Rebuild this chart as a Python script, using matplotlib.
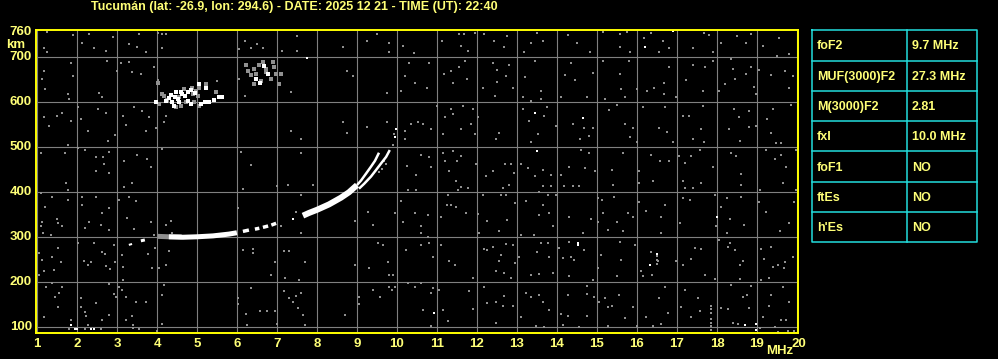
import matplotlib
matplotlib.use("Agg")
import matplotlib.pyplot as plt
from matplotlib.lines import Line2D

# ---------------- data ----------------
title_text = "Tucumán (lat: -26.9, lon: 294.6) - DATE: 2025 12 21 - TIME (UT): 22:40"
freq_ticks = list(range(1, 21))
height_ticks = [100, 200, 300, 400, 500, 600, 700]
height_top = 760

param_names = ["foF2", "MUF(3000)F2", "M(3000)F2", "fxI", "foF1", "ftEs", "h'Es"]
param_values = ["9.7 MHz", "27.3 MHz", "2.81", "10.0 MHz", "NO", "NO", "NO"]

# F-layer trace pieces (frequency MHz, virtual height km)
trace_start1_f = [3.30, 3.38]
trace_start1_h = [283, 285]
trace_start2_f = [3.60, 3.70]
trace_start2_h = [292, 294]
trace_gray_f = [4.02, 4.30, 4.62]
trace_gray_h = [302, 301, 301]
trace_low_f = [4.30, 4.65, 5.00, 5.40, 5.80, 6.00]
trace_low_h = [301, 300, 301, 303, 307, 310]
trace_dash_f = [[6.15, 6.30], [6.45, 6.56], [6.65, 6.78], [6.86, 6.98]]
trace_dash_h = [[313, 316], [318, 320], [322, 325], [327, 331]]
trace_mid_f = [7.65, 7.80, 8.00, 8.30, 8.60, 8.80, 9.00]
trace_mid_h = [348, 354, 361, 373, 388, 400, 416]
branch_o_f = [9.00, 9.10, 9.23, 9.35, 9.45, 9.55]
branch_o_h = [416, 426, 442, 457, 470, 488]
branch_x_f = [9.05, 9.18, 9.35, 9.48, 9.60, 9.73, 9.82]
branch_x_h = [408, 419, 435, 450, 464, 479, 494]

# second hop echoes (white) and their gray halo
hop2_f = [3.98, 4.22, 4.35, 4.48, 4.60, 4.64, 4.77, 4.85, 5.06, 4.39, 4.52, 4.56, 4.43,
          4.77, 4.85, 5.10, 5.20, 5.30, 5.43, 5.56, 5.64, 5.23, 4.30, 4.45, 4.70, 4.95,
          6.68, 6.78, 6.58, 6.48]
hop2_h = [601, 604, 616, 622, 624, 619, 624, 628, 641, 600, 607, 600, 593,
          604, 596, 596, 600, 601, 606, 611, 611, 631, 610, 612, 615, 620,
          680, 663, 644, 652]
hop2_gray_f = [4.18, 4.31, 4.68, 4.89, 4.98, 5.23, 5.02, 4.73, 4.93, 5.06, 4.48, 4.60, 4.06,
               5.48, 4.02, 4.14, 5.06, 4.55, 4.25, 4.90,
               6.23, 6.27, 6.43, 6.56, 6.48, 6.73, 6.93, 6.97, 6.43, 6.85, 7.10, 7.06, 6.60,
               6.73, 6.35, 6.65, 6.90]
hop2_gray_h = [615, 609, 630, 633, 626, 641, 615, 600, 600, 593, 589, 593, 596,
               622, 644, 619, 633, 612, 606, 618,
               683, 670, 674, 683, 663, 667, 678, 663, 641, 652, 663, 641, 648,
               674, 660, 690, 690]

# isolated bright echoes
spot_f = [7.75, 16.20, 16.90, 13.45, 14.64, 13.50, 7.40, 18.00, 14.52, 14.52, 16.31,
          16.49, 10.93, 18.70, 18.96, 18.96, 1.85, 1.95, 2.00, 2.36, 2.42, 9.95, 9.98]
spot_h = [698, 724, 758, 576, 565, 491, 340, 344, 287, 283, 239,
          262, 131, 104, 107, 93, 104, 96, 96, 96, 96, 522, 540]

# background interference (gray dots)
noise_pts = [
    (1.25, 757), (1.9, 750), (1.18, 722), (1.25, 711), (2.14, 733), (2.3, 752), (2.42, 721),
    (2.74, 715), (2.9, 746), (3.3, 730), (3.5, 724), (3.55, 752), (3.73, 713), (4.04, 755),
    (4.14, 752), (4.24, 752), (4.14, 721), (6.04, 719), (6.2, 737), (6.35, 721), (6.5, 730),
    (6.64, 721), (7.12, 715), (7.5, 747), (7.5, 715), (8.66, 724), (9.25, 737),
    (9.5, 752), (9.8, 733), (9.8, 713), (10.14, 726), (10.42, 709),
    (1.18, 670), (1.14, 652), (1.2, 630), (1.85, 687), (1.9, 659), (1.77, 619), (1.8, 607),
    (2.56, 620), (2.64, 613), (2.75, 691), (3.0, 670), (3.1, 687), (3.3, 690), (3.39, 667),
    (3.6, 664), (3.93, 678), (4.04, 650), (5.5, 647), (6.06, 652), (6.2, 615),
    (7.35, 622), (8.74, 669), (8.9, 659), (9.75, 620), (10.1, 626), (10.2, 659), (10.3, 687),
    (10.46, 644),
    (1.18, 567), (1.3, 548), (1.5, 570), (1.64, 576), (1.85, 559), (2.04, 589), (2.1, 563),
    (2.54, 585), (2.74, 576), (2.95, 528), (3.16, 570), (3.24, 550), (3.43, 589), (3.64, 581),
    (3.8, 567), (3.73, 536), (3.98, 544), (4.18, 557), (4.22, 570), (2.29, 536), (2.79, 515),
    (7.35, 536), (7.6, 519), (8.66, 557), (8.74, 531), (9.25, 546), (9.75, 557), (10.2, 536),
    (10.35, 552), (10.2, 519),
    (1.1, 487), (1.7, 487), (1.79, 506), (2.04, 499), (2.2, 495), (2.49, 478), (2.65, 478),
    (2.68, 464), (2.49, 448), (2.8, 490), (3.18, 470), (3.5, 484), (3.75, 474), (3.85, 457),
    (4.14, 496), (2.8, 442), (6.1, 490), (6.35, 461), (7.6, 487), (10.24, 459), (10.48, 438),
    (9.68, 470), (9.72, 462), (9.55, 445), (9.62, 452), (9.9, 505), (9.93, 530),
    (11.54, 753), (11.68, 752), (11.95, 755), (11.12, 737), (11.6, 726), (11.77, 715),
    (12.18, 752), (12.43, 736), (12.74, 747), (12.68, 723), (13.18, 711), (13.35, 733),
    (13.65, 737), (13.5, 755), (14.27, 750), (14.5, 733), (14.83, 711), (15.14, 757),
    (15.56, 752), (15.56, 724), (15.74, 757), (15.81, 711), (16.18, 744), (16.35, 755),
    (16.64, 737), (16.54, 713), (16.8, 722), (17.39, 721), (17.68, 755), (17.79, 750),
    (17.89, 713), (18.1, 733), (18.5, 748), (18.73, 733), (18.85, 752), (19.14, 726),
    (19.54, 744), (19.5, 704), (19.79, 707),
    (10.8, 687), (11.17, 664), (11.35, 670), (11.54, 679), (11.7, 693), (11.75, 652),
    (10.75, 633), (11.4, 642), (12.14, 632), (12.39, 687), (12.5, 672), (12.5, 646),
    (12.8, 684), (12.73, 659), (12.9, 633), (12.45, 615), (13.2, 656), (13.45, 691),
    (13.6, 626), (13.6, 607), (13.14, 611), (13.35, 602), (14.2, 661), (14.35, 687),
    (14.45, 650), (14.1, 611), (14.75, 611), (14.9, 665), (15.14, 691), (15.2, 607),
    (15.58, 663), (15.6, 630), (15.7, 611), (15.79, 691), (16.0, 630), (16.24, 626),
    (16.43, 633), (16.68, 642), (16.68, 619), (16.79, 678), (16.96, 611), (17.23, 650),
    (17.39, 683), (17.64, 626), (17.7, 678), (17.89, 691), (18.04, 626), (18.2, 641),
    (18.39, 674), (18.45, 652), (18.73, 663), (18.85, 678), (18.91, 635), (18.98, 619),
    (19.05, 672), (19.35, 661), (19.7, 670), (19.79, 633), (19.89, 659), (18.35, 696),
    (10.52, 556), (10.64, 552), (10.85, 541), (10.99, 593), (11.14, 530), (11.2, 567),
    (11.35, 585), (11.4, 574), (11.64, 593), (11.9, 585), (11.96, 530), (12.03, 568),
    (11.6, 541), (11.85, 552), (12.48, 519), (12.54, 531), (13.14, 585), (13.29, 559),
    (13.68, 570), (13.52, 530), (13.35, 511), (13.74, 589), (13.98, 548), (14.39, 552),
    (14.68, 544), (14.79, 526), (14.9, 544), (14.58, 519), (15.29, 583), (15.49, 595),
    (15.69, 553), (15.89, 544), (15.81, 522), (15.99, 511), (16.14, 589), (16.69, 589),
    (16.54, 544), (16.74, 533), (16.89, 511), (17.14, 570), (17.3, 570), (17.6, 541),
    (17.64, 593), (17.68, 511), (17.39, 519), (18.3, 541), (18.43, 585), (18.55, 567),
    (18.57, 515), (18.8, 580), (18.8, 546), (18.96, 548), (19.25, 563), (19.35, 531),
    (19.39, 585), (19.48, 509), (19.6, 509), (19.85, 595),
    (10.6, 484), (10.8, 478), (10.85, 457), (11.15, 487), (11.2, 470), (11.4, 491),
    (11.6, 480), (11.31, 448), (11.5, 469), (11.98, 464), (12.23, 437), (12.39, 447),
    (12.7, 462), (12.85, 464), (12.93, 442), (13.1, 462), (13.28, 453), (13.45, 437),
    (13.64, 450), (13.85, 439), (14.1, 439), (14.3, 457), (14.6, 495), (14.69, 454),
    (14.81, 488), (14.96, 447), (15.37, 450), (15.64, 488), (16.05, 447), (16.35, 484),
    (16.56, 469), (16.8, 469), (17.04, 481), (17.2, 466), (17.35, 481), (17.56, 493),
    (17.89, 456), (18.35, 488), (18.48, 481), (18.6, 440), (19.23, 493), (19.44, 473),
    (19.6, 484), (19.73, 456), (19.98, 495),
    (1.72, 420), (1.77, 405), (1.1, 398), (1.39, 390), (1.2, 368), (1.12, 335), (1.1, 324),
    (1.16, 309), (1.35, 305), (1.5, 340), (1.52, 331), (1.64, 324), (1.77, 383), (2.14, 390),
    (2.14, 372), (2.31, 335), (2.21, 320), (2.49, 390), (2.64, 353), (2.6, 327), (2.81, 364),
    (2.81, 316), (3.06, 383), (3.18, 411), (3.26, 342), (3.3, 390), (3.43, 318), (3.48, 381),
    (3.39, 421), (3.85, 333), (3.93, 305), (4.24, 327), (4.35, 337), (4.39, 309),
    (6.02, 364), (6.16, 407), (7.0, 414), (7.1, 324), (7.28, 416), (7.48, 357), (7.6, 394),
    (7.9, 416), (7.6, 309), (9.27, 357), (9.39, 327), (9.96, 353), (10.14, 333), (10.27, 405),
    (10.1, 381), (10.48, 405), (10.46, 353), (8.95, 337),
    (1.06, 264), (1.14, 250), (1.38, 255), (1.52, 276), (1.6, 246), (1.43, 227), (1.18, 226),
    (1.06, 216), (2.04, 288), (2.18, 248), (2.27, 239), (2.35, 246), (2.43, 288), (2.64, 268),
    (2.71, 263), (2.74, 235), (2.83, 229), (2.96, 246), (2.93, 283), (3.14, 261), (3.16, 233),
    (3.16, 205), (3.77, 263), (3.89, 231), (3.96, 276), (4.06, 231), (4.23, 239), (4.31, 270),
    (6.14, 272), (6.39, 273), (6.39, 264), (6.85, 216), (6.94, 246), (7.18, 270), (7.31, 270),
    (7.2, 209), (7.56, 204), (7.69, 244), (8.96, 239), (9.31, 231), (9.52, 287), (9.64, 283),
    (9.77, 246), (9.8, 216), (9.89, 216), (10.23, 272),
    (1.23, 190), (1.39, 198), (1.56, 177), (1.62, 189), (1.46, 167), (1.54, 144), (1.18, 122),
    (1.85, 116), (2.1, 164), (2.1, 144), (2.21, 133), (2.24, 124), (2.29, 104), (2.49, 153),
    (2.64, 116), (2.81, 196), (2.81, 127), (2.93, 174), (2.99, 167), (3.06, 190), (3.14, 183),
    (3.24, 168), (3.24, 116), (3.37, 124), (3.41, 105), (3.49, 155), (3.74, 157), (4.13, 172),
    (4.18, 194), (4.14, 107), (6.02, 164), (6.02, 152), (6.23, 130), (6.25, 104), (6.35, 187),
    (6.57, 135), (6.74, 135), (6.95, 135), (6.99, 107), (7.18, 181), (7.29, 164), (7.39, 157),
    (7.48, 170), (7.52, 142), (7.6, 176), (7.64, 127), (7.71, 104), (8.69, 127), (9.06, 168),
    (9.06, 152), (9.39, 183), (9.58, 168), (9.81, 189), (9.88, 183), (9.94, 190), (10.27, 199),
    (10.46, 190), (1.8, 96), (2.2, 96), (2.6, 97), (3.4, 99), (3.55, 97), (4.0, 92),
    (11.48, 424), (11.6, 411), (11.77, 409), (11.52, 405), (11.27, 394), (11.24, 372),
    (11.35, 372), (11.48, 368), (10.77, 350), (11.1, 346), (10.6, 324), (10.6, 310),
    (10.77, 301), (11.73, 353), (12.02, 352), (12.14, 394), (12.06, 309), (12.25, 337),
    (12.6, 394), (12.73, 394), (12.66, 409), (12.79, 416), (12.95, 376), (12.75, 339),
    (12.56, 313), (13.1, 305), (13.23, 381), (13.43, 305), (13.56, 401), (13.64, 372),
    (13.56, 350), (13.64, 413), (13.81, 353), (13.77, 394), (13.85, 413), (13.91, 324),
    (13.98, 394), (14.18, 413), (14.39, 413), (14.54, 414), (14.29, 346), (14.64, 309),
    (14.85, 340), (15.02, 387), (15.02, 335), (15.14, 355), (15.13, 383), (15.39, 416),
    (15.27, 316), (15.64, 315), (15.49, 335), (15.41, 389), (15.77, 355), (15.89, 346),
    (16.04, 420), (16.04, 379), (16.21, 359), (16.39, 425), (16.6, 346), (16.69, 372),
    (16.6, 309), (17.14, 424), (17.14, 387), (17.31, 383), (17.2, 409), (17.39, 409),
    (17.06, 331), (17.6, 421), (17.94, 394), (18.1, 368), (17.98, 324), (18.24, 309),
    (18.31, 340), (18.25, 387), (18.6, 416), (18.6, 390), (18.66, 327), (19.04, 379),
    (19.23, 357), (19.06, 405), (19.56, 313), (19.64, 421), (19.79, 331), (19.93, 379),
    (19.98, 405),
    (10.6, 283), (10.8, 287), (11.1, 283), (10.9, 257), (11.31, 248), (11.46, 239),
    (11.89, 209), (12.18, 273), (12.24, 272), (12.39, 279), (12.54, 248), (12.6, 261),
    (12.73, 285), (12.68, 221), (12.9, 283), (12.85, 209), (12.48, 224), (12.96, 242),
    (13.06, 255), (13.49, 268), (13.6, 288), (13.77, 287), (13.81, 257), (13.89, 220),
    (13.56, 219), (13.35, 216), (14.06, 276), (14.14, 253), (14.29, 290), (14.35, 257),
    (14.43, 250), (14.68, 272), (14.29, 213), (14.89, 205), (15.02, 231), (15.1, 261),
    (15.49, 213), (15.57, 290), (15.6, 250), (15.95, 283), (16.1, 224), (16.14, 213),
    (16.35, 268), (16.49, 250), (16.49, 240), (16.49, 258), (16.37, 216), (16.52, 248),
    (16.96, 248), (17.14, 239), (17.35, 251), (17.45, 276), (17.6, 273), (17.7, 216),
    (17.95, 207), (18.04, 293), (18.26, 279), (18.31, 287), (18.45, 272), (18.56, 239),
    (18.64, 248), (18.56, 207), (19.1, 273), (19.18, 251), (19.1, 205), (19.29, 209),
    (19.35, 279), (19.39, 233), (19.52, 239), (19.68, 231), (19.7, 244), (19.89, 257),
    (10.6, 198), (10.9, 187), (10.85, 176), (11.04, 183), (10.64, 139), (10.85, 103),
    (11.14, 139), (11.27, 113), (11.79, 181), (11.89, 140), (12.18, 189), (12.26, 153),
    (12.48, 157), (12.48, 110), (12.66, 147), (12.89, 147), (12.68, 170), (13.1, 122),
    (13.23, 176), (13.35, 168), (13.56, 172), (13.64, 157), (13.81, 139), (13.48, 103),
    (13.68, 101), (14.1, 130), (14.14, 105), (14.27, 125), (14.27, 172), (14.56, 101),
    (14.74, 192), (14.74, 174), (14.74, 125), (14.93, 168), (15.04, 157), (15.21, 164),
    (15.27, 144), (15.37, 147), (15.27, 103), (15.54, 172), (15.69, 120), (15.89, 144),
    (15.99, 103), (16.23, 122), (16.39, 103), (16.6, 107), (16.69, 190), (16.54, 164),
    (16.77, 131), (17.1, 144), (17.2, 183), (17.35, 122), (17.51, 164), (17.56, 135),
    (17.85, 148), (17.85, 140), (17.85, 132), (17.85, 118), (17.85, 110), (17.85, 102),
    (17.85, 94), (18.1, 142), (18.26, 140), (18.35, 194), (18.39, 109), (18.52, 107),
    (18.64, 168), (18.85, 192), (18.8, 142), (18.75, 172), (19.06, 98), (19.14, 122),
    (19.29, 147), (19.35, 172), (19.44, 101), (19.52, 90), (19.64, 190), (19.6, 116),
    (19.73, 116), (19.79, 157), (19.77, 92), (19.93, 92),
]

# ---------------- figure ----------------
W, H, DPI = 998, 359, 100
fig = plt.figure(figsize=(W / DPI, H / DPI), dpi=DPI, facecolor="black")

yellow_line = "#ffff00"
yellow_text = "#ffff77"
grid_col = "#808080"
noise_col = "#909090"
cyan = "#22dddd"
font = "Liberation Sans"

# a 1 px wide, 2-3 px tall pixel block marker
bar_marker = [(-0.5, -1.0), (0.5, -1.0), (0.5, 1.0), (-0.5, 1.0), (-0.5, -1.0)]

x0, x1, ytop, ybot = 36, 798, 30, 333
ax = fig.add_axes([x0 / W, 1 - ybot / H, (x1 - x0) / W, (ybot - ytop) / H])
ax.set_facecolor("black")
ax.set_xlim(0.98, 20.02)
ax.set_ylim(87, 761)

for f in freq_ticks:
    ax.axvline(f, color=grid_col, lw=0.8, zorder=1)
for h in height_ticks:
    ax.axhline(h, color=grid_col, lw=0.8, zorder=1)

for s in ax.spines.values():
    s.set_color(yellow_line)
    s.set_linewidth(1.4)
    s.set_zorder(10)
ax.set_xticks([])
ax.set_yticks([])

# noise
nf = [p[0] for p in noise_pts]
nh = [p[1] for p in noise_pts]
ax.scatter(nf, nh, marker=bar_marker, s=4.0, color=noise_col, linewidths=0, zorder=2)
ax.scatter(hop2_gray_f, hop2_gray_h, marker="s", s=6, color=noise_col, linewidths=0, zorder=2)

px = 0.72  # points per pixel
def seg(fx, hy, width, color="white"):
    ax.plot(fx, hy, color=color, lw=width * px, solid_capstyle="butt", zorder=4)

seg(trace_start1_f, trace_start1_h, 2)
seg(trace_start2_f, trace_start2_h, 3)
seg(trace_gray_f, trace_gray_h, 5, color=noise_col)
seg(trace_low_f, trace_low_h, 5)
for fx, hy in zip(trace_dash_f, trace_dash_h):
    seg(fx, hy, 3.5)
seg(trace_mid_f, trace_mid_h, 6)
seg(branch_o_f, branch_o_h, 2.5)
seg(branch_x_f, branch_x_h, 2.5)

ax.scatter(hop2_f, hop2_h, marker="s", s=8, color="white", linewidths=0, zorder=5)
ax.scatter(spot_f, spot_h, marker="s", s=4.5, color="white", linewidths=0, zorder=5)

# ---------------- texts ----------------
def px2fig(x, y):
    return x / W, 1 - y / H

tk = dict(color=yellow_text, fontsize=9.5, fontweight="bold", family=font)
for f in freq_ticks:
    xp = 37 + (f - 1) * 40
    if f == 20:
        xp = 799
    fig.text(*px2fig(xp, 344), str(f), ha="center", va="center", **tk)
fig.text(*px2fig(780, 351), "MHz", ha="center", va="center", **tk)

for h in height_ticks:
    yp = 327 - (h - 100) * 0.45
    fig.text(*px2fig(32, yp), str(h), ha="right", va="center", **tk)
fig.text(*px2fig(32, 32), str(height_top), ha="right", va="center", **tk)
fig.text(*px2fig(25, 45), "km", ha="right", va="center", **tk)

fig.text(*px2fig(294, 7), title_text, ha="center", va="center",
         color=yellow_text, fontsize=9, fontweight="bold", family=font)

# ---------------- parameter table ----------------
tx0, tx1, ty0, ty1, tcol = 812.5, 977.5, 30.3, 242.3, 907.3
rh = (ty1 - ty0) / len(param_names)
tab = fig.add_axes([0, 0, 1, 1], facecolor="none")
tab.set_xlim(0, W)
tab.set_ylim(H, 0)
tab.axis("off")
tab.add_line(Line2D([tx0, tx1, tx1, tx0, tx0], [ty0, ty0, ty1, ty1, ty0], color=cyan, lw=1.1))
tab.add_line(Line2D([tcol, tcol], [ty0, ty1], color=cyan, lw=1.1))
for i in range(1, len(param_names)):
    yy = ty0 + i * rh
    tab.add_line(Line2D([tx0, tx1], [yy, yy], color=cyan, lw=1.1))
for i, (n, v) in enumerate(zip(param_names, param_values)):
    yc = ty0 + (i + 0.5) * rh + 1
    tab.text(817, yc, n, ha="left", va="center", color=yellow_text, fontsize=9,
             fontweight="bold", family=font)
    tab.text(912, yc, v, ha="left", va="center", color=yellow_text, fontsize=9,
             fontweight="bold", family=font)

fig.savefig("out.png", dpi=DPI, facecolor="black")
